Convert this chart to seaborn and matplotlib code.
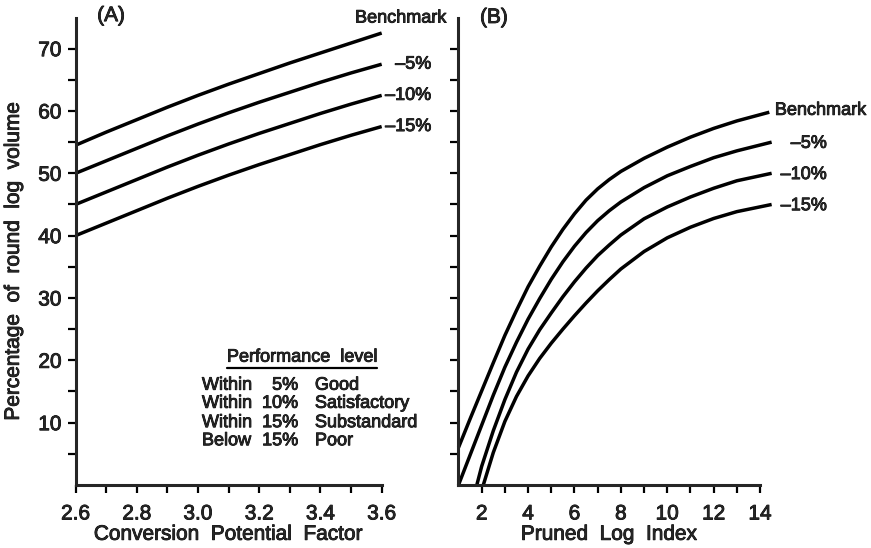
import matplotlib
matplotlib.use("Agg")
import matplotlib.pyplot as plt
import matplotlib.patheffects as pe
import seaborn as sns
import numpy as np

# Panel A : Conversion Potential Factor
cpf = [2.6, 2.7, 2.8, 2.9, 3.0, 3.1, 3.2, 3.3, 3.4, 3.5, 3.6]
a_bench = [54.5, 56.6, 58.6, 60.6, 62.5, 64.3, 66.0, 67.7, 69.3, 70.9, 72.5]
a_m5 = [50.0, 52.0, 54.0, 56.0, 57.9, 59.7, 61.4, 63.0, 64.6, 66.1, 67.5]
a_m10 = [45.0, 47.0, 49.0, 51.0, 52.9, 54.7, 56.4, 58.0, 59.6, 61.1, 62.5]
a_m15 = [40.0, 42.0, 44.0, 46.0, 47.9, 49.7, 51.4, 53.0, 54.6, 56.1, 57.5]

# Panel B : Pruned Log Index
b_bench_x = [1.0, 1.5, 2.0, 2.5, 3.0, 3.5, 4.0, 4.5, 5.0, 5.5, 6.0, 6.5, 7.0, 7.5, 8.0,
             9.0, 10.0, 11.0, 12.0, 13.0, 14.4]
b_bench = [6.0, 10.6, 15.1, 19.6, 24.0, 28.0, 31.8, 35.1, 38.2, 41.0, 43.5, 45.7, 47.5, 49.0, 50.3,
           52.4, 54.2, 55.8, 57.2, 58.4, 59.8]
b_m5_x = [1.0, 1.5, 2.0, 2.5, 3.0, 3.5, 4.0, 4.5, 5.0, 5.5, 6.0, 6.5, 7.0, 7.5, 8.0,
          9.0, 10.0, 11.0, 12.0, 13.0, 14.5]
b_m5 = [0.0, 4.8, 9.6, 14.4, 18.9, 22.9, 26.6, 29.9, 33.0, 35.8, 38.3, 40.5, 42.4, 44.0, 45.4,
        47.7, 49.6, 51.1, 52.5, 53.6, 55.0]
b_m10_x = [1.79, 2.0, 2.5, 3.0, 3.5, 4.0, 4.5, 5.0, 5.5, 6.0, 6.5, 7.0, 7.5, 8.0,
           9.0, 10.0, 11.0, 12.0, 13.0, 14.5]
b_m10 = [0.0, 3.0, 8.7, 13.7, 18.1, 21.8, 24.9, 27.6, 30.2, 32.6, 34.8, 36.8, 38.5, 40.1,
         42.7, 44.6, 46.2, 47.6, 48.8, 50.0]
b_m15_x = [2.07, 2.5, 3.0, 3.5, 4.0, 4.5, 5.0, 5.5, 6.0, 6.5, 7.0, 7.5, 8.0,
           9.0, 10.0, 11.0, 12.0, 13.0, 14.5]
b_m15 = [0.0, 5.2, 10.2, 14.2, 17.5, 20.3, 22.75, 25.0, 27.15, 29.2, 31.15, 32.95, 34.65,
         37.45, 39.65, 41.35, 42.75, 43.85, 45.0]

curve_labels = ["Benchmark", "–5%", "–10%", "–15%"]
perf_rows = [("Within", "5%", "Good"),
             ("Within", "10%", "Satisfactory"),
             ("Within", "15%", "Substandard"),
             ("Below", "15%", "Poor")]

sns.set_style("ticks")
plt.rcParams['font.family'] = ['Liberation Sans', 'DejaVu Sans']
heavy = [pe.withStroke(linewidth=0.6, foreground='black')]

fig = plt.figure(figsize=(8.71, 5.48), dpi=100)
axA = fig.add_axes([0.0867, 0.115, 0.3515, 0.852])
axB = fig.add_axes([0.5264, 0.115, 0.3462, 0.852])

lw = 2.5
for y in [a_bench, a_m5, a_m10, a_m15]:
    sns.lineplot(x=cpf, y=y, ax=axA, color='black', linewidth=lw, estimator=None, sort=False)
for x, y in [(b_bench_x, b_bench), (b_m5_x, b_m5), (b_m10_x, b_m10), (b_m15_x, b_m15)]:
    sns.lineplot(x=x, y=y, ax=axB, color='black', linewidth=lw, estimator=None, sort=False)

for ax in [axA, axB]:
    for ln in ax.lines:
        ln.set_clip_on(False)
        ln.set_solid_capstyle('butt')
        ln.set_solid_joinstyle('round')
    ax.set_ylim(0, 74.9)
    sns.despine(ax=ax)
    ax.spines['left'].set_linewidth(2.2)
    ax.spines['bottom'].set_linewidth(2.2)
    ax.tick_params(which='both', direction='out', length=6, width=1.6, labelsize=15, color='black')
    ax.tick_params(axis='x', pad=8)
    ax.tick_params(axis='y', pad=4)
    ax.set_yticks(np.arange(5, 71, 5))

# Panel A axes
axA.set_xlim(2.6, 3.6)
axA.set_xticks(np.round(np.arange(2.6, 3.61, 0.1), 1))
axA.set_xticklabels(["2.6", "", "2.8", "", "3.0", "", "3.2", "", "3.4", "", "3.6"])
axA.set_yticklabels([str(v) if v % 10 == 0 else "" for v in range(5, 71, 5)])
axA.set_xlabel("Conversion  Potential  Factor", fontsize=15, labelpad=1)
axA.set_ylabel("Percentage  of  round  log  volume", fontsize=15)
axA.yaxis.set_label_coords(-0.172, 0.48)
axA.text(2.716, 75.3, "(A)", fontsize=15, ha='center', va='center')

# Panel B axes
axB.set_xlim(1, 14)
axB.set_xticks(np.arange(2, 15, 1))
axB.set_xticklabels([str(v) if v % 2 == 0 else "" for v in range(2, 15)])
axB.set_yticklabels([])
axB.set_xlabel("Pruned  Log  Index", fontsize=15, labelpad=1)
axB.text(2.53, 75.0, "(B)", fontsize=15, ha='center', va='center')

# curve labels
axA.text(3.513, 74.9, curve_labels[0], fontsize=13, ha='left', va='center', clip_on=False)
for lab, yv in zip(curve_labels[1:], [a_m5[-1], a_m10[-1], a_m15[-1]]):
    axA.text(3.762, yv, lab, fontsize=13, ha='right', va='center', clip_on=False)
axB.text(14.64, b_bench[-1] + 0.3, curve_labels[0], fontsize=13, ha='left', va='center', clip_on=False)
for lab, yv in zip(curve_labels[1:], [b_m5[-1], b_m10[-1], b_m15[-1]]):
    axB.text(16.88, yv - 0.2, lab, fontsize=13, ha='right', va='center', clip_on=False)

# performance level box
axA.text(3.34, 20.5, "Performance  level", fontsize=13, ha='center', va='center')
axA.plot([3.095, 3.585], [18.8, 18.8], color='black', linewidth=1.6)
for (w, p, q), yv in zip(perf_rows, [16.0, 13.1, 10.0, 7.1]):
    axA.text(3.013, yv, w, fontsize=13, ha='left', va='center')
    axA.text(3.327, yv, p, fontsize=13, ha='right', va='center')
    axA.text(3.382, yv, q, fontsize=13, ha='left', va='center')

for t in fig.findobj(matplotlib.text.Text):
    t.set_path_effects(heavy)

plt.savefig("out.png", dpi=100)
